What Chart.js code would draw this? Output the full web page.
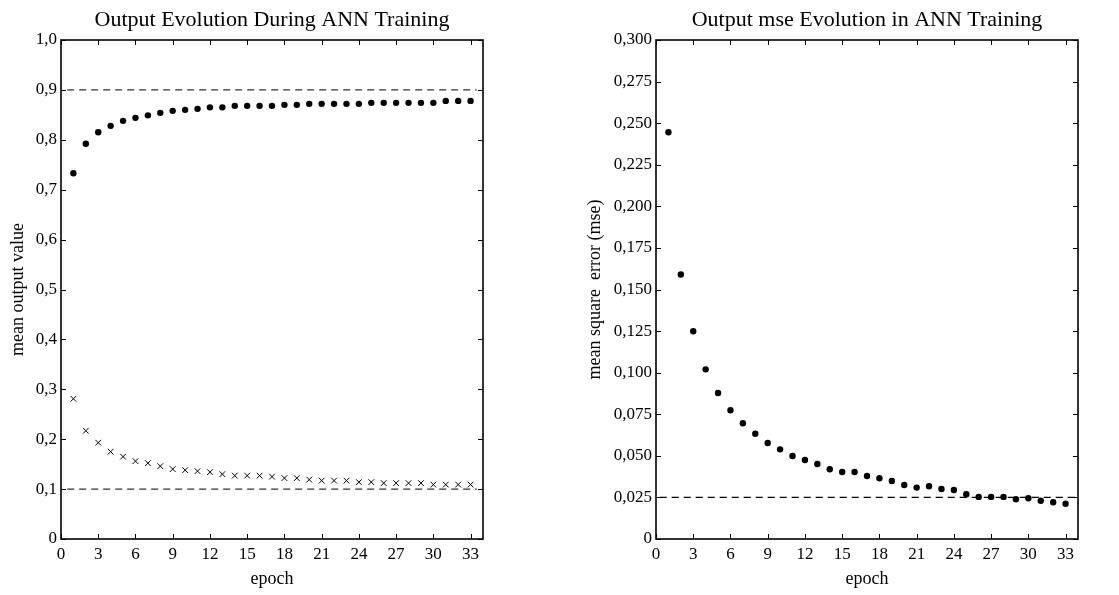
<!DOCTYPE html>
<html>
<head>
<meta charset="utf-8">
<script src="https://cdn.jsdelivr.net/npm/chart.js@4.4.1/dist/chart.umd.min.js"></script>
<style>
  html, body { margin:0; padding:0; background:#fff; }
  #wrap { position:relative; width:1119px; height:595px; }
  .box { position:absolute; top:0; height:595px; }
</style>
</head>
<body>
<div id="wrap">
  <div class="box" style="left:0;width:560px"><canvas id="c1" width="560" height="595"></canvas></div>
  <div class="box" style="left:560px;width:559px"><canvas id="c2" width="559" height="595"></canvas></div>
</div>
<script>
// ---------- data ----------
const epochs = [1,2,3,4,5,6,7,8,9,10,11,12,13,14,15,16,17,18,19,20,21,22,23,24,25,26,27,28,29,30,31,32,33];

const outputHigh = [0.733,0.792,0.815,0.828,0.838,0.844,0.849,0.854,0.858,0.860,0.862,0.865,0.865,0.868,0.868,0.868,0.868,0.870,0.870,0.872,0.872,0.872,0.872,0.872,0.874,0.874,0.874,0.874,0.874,0.874,0.878,0.878,0.878];
const outputLow  = [0.281,0.217,0.193,0.175,0.165,0.156,0.152,0.146,0.140,0.138,0.136,0.134,0.130,0.127,0.127,0.127,0.125,0.122,0.122,0.119,0.117,0.117,0.117,0.114,0.114,0.112,0.112,0.112,0.112,0.109,0.109,0.109,0.109];
const mseValues  = [0.2445,0.159,0.1249,0.102,0.0878,0.0774,0.0696,0.0633,0.0577,0.0539,0.0499,0.0475,0.0451,0.0419,0.0403,0.0403,0.0379,0.0365,0.0349,0.0325,0.0309,0.0317,0.0301,0.0295,0.0269,0.0253,0.0253,0.0253,0.0239,0.0245,0.0230,0.0221,0.0212];

const targetHigh = 0.9;
const targetLow = 0.1;
const targetMse = 0.025;
const targetSpanLeft = [0.5, 33.5];
const targetSpanRight = [0.3, 33.8];

const xTicks = [0,3,6,9,12,15,18,21,24,27,30,33];
const xTickLabels = ['0','3','6','9','12','15','18','21','24','27','30','33'];
const yTicksLeft = [0,0.1,0.2,0.3,0.4,0.5,0.6,0.7,0.8,0.9,1.0];
const yTickLabelsLeft = ['0','0,1','0,2','0,3','0,4','0,5','0,6','0,7','0,8','0,9','1,0'];
const yTicksRight = [0,0.025,0.05,0.075,0.1,0.125,0.15,0.175,0.2,0.225,0.25,0.275,0.3];
const yTickLabelsRight = ['0','0,025','0,050','0,075','0,100','0,125','0,150','0,175','0,200','0,225','0,250','0,275','0,300'];

// ---------- helpers ----------
const FONT = "'Liberation Serif', 'Times New Roman', serif";
const pts = (xs, ys) => xs.map((x, i) => ({x, y: ys[i]}));
const hline = (span, v) => span.map(x => ({x, y: v}));
const labelFor = (vals, labels) => (value) => {
  const i = vals.findIndex(v => Math.abs(v - value) < 1e-9);
  return i >= 0 ? labels[i] : '';
};

const framePlugin = {
  id: 'frame',
  afterDatasetsDraw(chart) {
    const {ctx, chartArea: a, scales: {x, y}} = chart;
    ctx.save();
    ctx.strokeStyle = '#000';
    ctx.lineWidth = 1;
    ctx.beginPath();
    x.ticks.forEach(t => {
      const px = Math.round(x.getPixelForValue(t.value)) + 0.5;
      ctx.moveTo(px, a.bottom); ctx.lineTo(px, a.bottom - 5);
      ctx.moveTo(px, a.top); ctx.lineTo(px, a.top + 5);
    });
    y.ticks.forEach(t => {
      const py = Math.round(y.getPixelForValue(t.value)) + 0.5;
      ctx.moveTo(a.left, py); ctx.lineTo(a.left + 5, py);
      ctx.moveTo(a.right, py); ctx.lineTo(a.right - 5, py);
    });
    ctx.stroke();
    ctx.lineWidth = 1.6;
    ctx.strokeRect(a.left, a.top, a.right - a.left, a.bottom - a.top);
    // title centred over the plot area
    const t = chart.options.plugins.frame.title;
    ctx.fillStyle = '#000';
    ctx.font = "22px " + FONT;
    ctx.textAlign = 'center';
    ctx.textBaseline = 'middle';
    ctx.fillText(t, (a.left + a.right) / 2, 20);
    ctx.restore();
  }
};

function makeChart(id, cfg) {
  return new Chart(document.getElementById(id), {
    type: 'scatter',
    data: { datasets: cfg.datasets },
    options: {
      responsive: false,
      animation: false,
      devicePixelRatio: 1,
      layout: { padding: { left: 0, right: cfg.padRight, top: 40, bottom: 0 } },
      plugins: {
        legend: { display: false },
        tooltip: { enabled: false },
        title: { display: false },
        frame: { title: cfg.title }
      },
      scales: {
        x: {
          type: 'linear', min: 0, max: 34,
          afterBuildTicks: s => { s.ticks = xTicks.map(v => ({value: v})); },
          afterFit: s => { s.height = 56; },
          grid: { display: false, drawTicks: false },
          border: { display: false },
          ticks: { color: '#000', padding: 5, maxRotation: 0, autoSkip: false,
                   font: { family: FONT, size: 17 },
                   callback: labelFor(xTicks, xTickLabels) },
          title: { display: true, text: 'epoch', color: '#000',
                   font: { family: FONT, size: 18 }, padding: { top: 0, bottom: 5 } }
        },
        y: {
          type: 'linear', min: cfg.yMin, max: cfg.yMax,
          afterBuildTicks: s => { s.ticks = cfg.yTicks.map(v => ({value: v})); },
          afterFit: s => { s.width = cfg.yWidth; },
          grid: { display: false, drawTicks: false },
          border: { display: false },
          ticks: { color: '#000', padding: 4, autoSkip: false,
                   font: { family: FONT, size: 17 },
                   callback: labelFor(cfg.yTicks, cfg.yLabels) },
          title: { display: true, text: cfg.yTitle, color: '#000',
                   font: { family: FONT, size: 18 }, padding: { top: cfg.yTitlePad, bottom: 0 } }
        }
      }
    },
    plugins: [framePlugin]
  });
}

const dotStyle = { pointStyle: 'circle', pointRadius: 3.2, pointBackgroundColor: '#000', pointBorderColor: '#000', pointBorderWidth: 0, showLine: false };
const dashStyle = (c) => ({ showLine: true, borderColor: c, borderWidth: 1.2, borderDash: [7, 5], pointRadius: 0, fill: false });

makeChart('c1', {
  title: 'Output Evolution During ANN Training',
  yTitle: 'mean output value',
  yMin: 0, yMax: 1.0, yTicks: yTicksLeft, yLabels: yTickLabelsLeft,
  yWidth: 61, padRight: 77, yTitlePad: 7,
  datasets: [
    Object.assign({ data: hline(targetSpanLeft, targetHigh) }, dashStyle('#333')),
    Object.assign({ data: hline(targetSpanLeft, targetLow) }, dashStyle('#333')),
    Object.assign({ data: pts(epochs, outputHigh) }, dotStyle),
    { data: pts(epochs, outputLow), pointStyle: 'crossRot', pointRadius: 4, pointBorderColor: '#000', pointBorderWidth: 1, showLine: false }
  ]
});

makeChart('c2', {
  title: 'Output mse Evolution in ANN Training',
  yTitle: 'mean square  error (mse)',
  yMin: 0, yMax: 0.3, yTicks: yTicksRight, yLabels: yTickLabelsRight,
  yWidth: 96, padRight: 41, yTitlePad: 24,
  datasets: [
    Object.assign({ data: hline(targetSpanRight, targetMse) }, dashStyle('#000')),
    Object.assign({ data: pts(epochs, mseValues) }, dotStyle)
  ]
});
</script>
</body>
</html>
